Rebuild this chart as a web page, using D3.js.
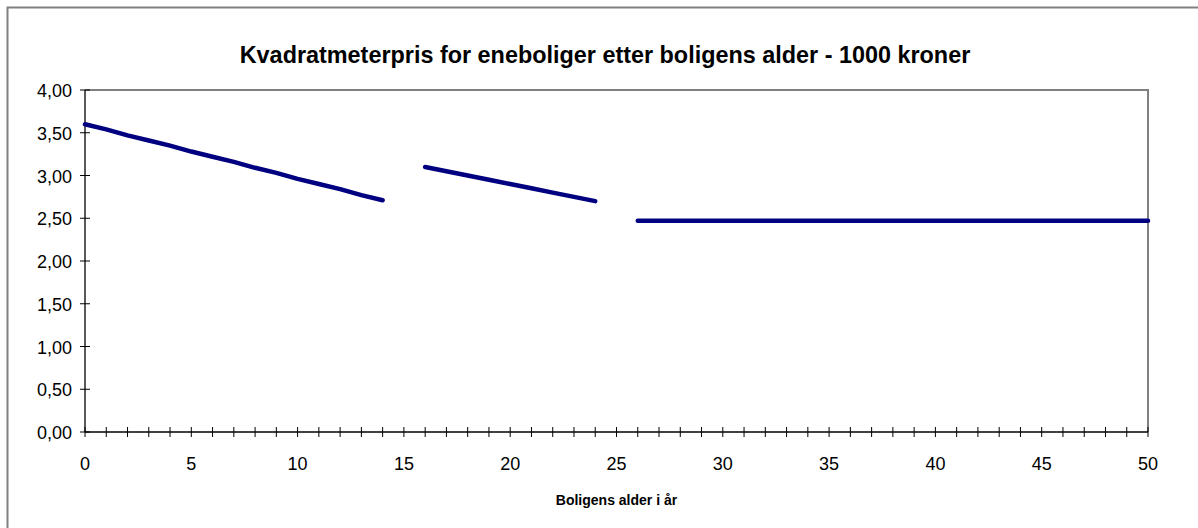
<!DOCTYPE html>
<html>
<head>
<meta charset="utf-8">
<script src="https://cdn.jsdelivr.net/npm/d3@7"></script>
<style>
  body { margin: 0; background: #fff; }
  svg { display: block; font-family: Arial, "Liberation Sans", sans-serif; }
</style>
</head>
<body>
<svg id="chart"></svg>
<script>
// Years 0..50, price per m2 in 1000 kroner (null = no data)
const years = d3.range(0, 51);
const seg1 = [3.60, 3.54, 3.47, 3.41, 3.35, 3.28, 3.22, 3.16, 3.09, 3.03, 2.96, 2.90, 2.84, 2.77, 2.71];
const seg2 = [3.10, 3.05, 3.00, 2.95, 2.90, 2.85, 2.80, 2.75, 2.70];
const seg3 = [2.47, 2.47, 2.47, 2.47, 2.47, 2.47, 2.47, 2.47, 2.47, 2.47, 2.47, 2.47, 2.47,
              2.47, 2.47, 2.47, 2.47, 2.47, 2.47, 2.47, 2.47, 2.47, 2.47, 2.47, 2.47];
const prices = [...seg1, null, ...seg2, null, ...seg3];
const yTicks = [0, 0.5, 1, 1.5, 2, 2.5, 3, 3.5, 4];
const xLabels = [0, 5, 10, 15, 20, 25, 30, 35, 40, 45, 50];

const title = "Kvadratmeterpris for eneboliger etter boligens alder - 1000 kroner";
const xTitle = "Boligens alder i år";

const width = 1198, height = 528;
const plot = {left: 85, top: 90, right: 1148, bottom: 432};

const svg = d3.select("#chart").attr("width", width).attr("height", height);

// outer chart frame
svg.append("rect")
    .attr("x", 7.5).attr("y", 7.5)
    .attr("width", 1200).attr("height", 540)
    .attr("fill", "#fff")
    .attr("stroke", "#808080")
    .attr("stroke-width", 2);

svg.append("text")
    .attr("x", 605).attr("y", 63)
    .attr("text-anchor", "middle")
    .attr("font-size", 23.4)
    .attr("font-weight", "bold")
    .text(title);

const x = d3.scaleLinear().domain([0, 50]).range([plot.left, plot.right]);
const y = d3.scaleLinear().domain([0, 4]).range([plot.bottom, plot.top]);

// plot area border (top & right gray)
svg.append("path")
    .attr("d", `M${plot.left},${plot.top}H${plot.right}V${plot.bottom}`)
    .attr("fill", "none")
    .attr("stroke", "#808080")
    .attr("stroke-width", 2);

// y axis
const yAxis = svg.append("g").attr("transform", `translate(${plot.left},0)`);
yAxis.append("line")
    .attr("y1", plot.top).attr("y2", plot.bottom)
    .attr("stroke", "#000").attr("stroke-width", 1.3);
yAxis.selectAll(".tick")
    .data(yTicks)
    .join("line")
    .attr("x1", -5).attr("x2", 5)
    .attr("y1", d => y(d)).attr("y2", d => y(d))
    .attr("stroke", "#000");
yAxis.selectAll("text")
    .data(yTicks)
    .join("text")
    .attr("x", -13)
    .attr("y", d => y(d) + 7)
    .attr("text-anchor", "end")
    .attr("font-size", 18)
    .text(d => d3.format(".2f")(d).replace(".", ","));

// x axis
const xAxis = svg.append("g").attr("transform", `translate(0,${plot.bottom})`);
xAxis.append("line")
    .attr("x1", plot.left).attr("x2", plot.right)
    .attr("stroke", "#000").attr("stroke-width", 1.3);
xAxis.selectAll(".tick")
    .data(years)
    .join("line")
    .attr("x1", d => x(d)).attr("x2", d => x(d))
    .attr("y1", -5).attr("y2", 5)
    .attr("stroke", "#000");
xAxis.selectAll("text")
    .data(xLabels)
    .join("text")
    .attr("x", d => x(d))
    .attr("y", 38)
    .attr("text-anchor", "middle")
    .attr("font-size", 18)
    .text(d => d);

svg.append("text")
    .attr("x", (plot.left + plot.right) / 2)
    .attr("y", 505)
    .attr("text-anchor", "middle")
    .attr("font-size", 14)
    .attr("font-weight", "bold")
    .text(xTitle);

// line with gaps
const line = d3.line()
    .defined(d => d[1] != null)
    .x(d => x(d[0]))
    .y(d => y(d[1]));

svg.append("path")
    .datum(years.map((yr, i) => [yr, prices[i]]))
    .attr("d", line)
    .attr("fill", "none")
    .attr("stroke", "#000080")
    .attr("stroke-width", 4.5)
    .attr("stroke-linecap", "round")
    .attr("stroke-linejoin", "round");
</script>
</body>
</html>
